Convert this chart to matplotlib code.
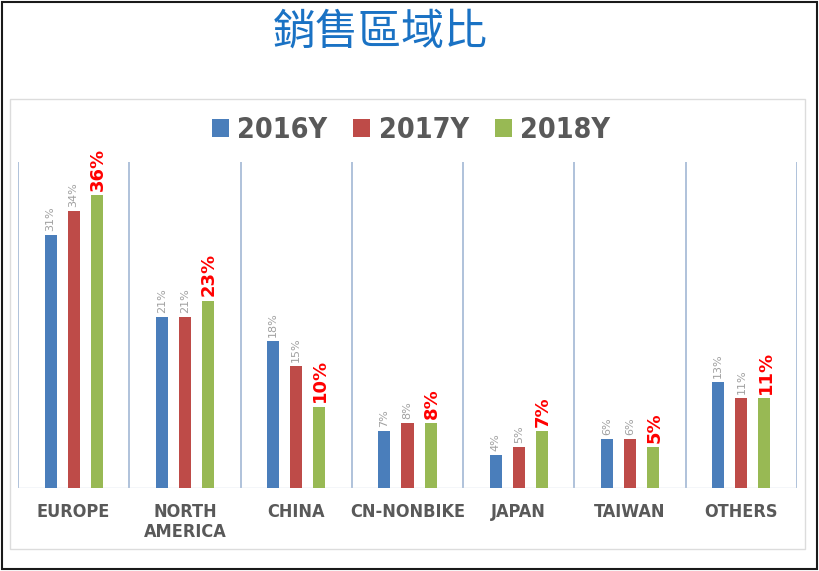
import matplotlib
matplotlib.use("Agg")
import matplotlib.pyplot as plt
from matplotlib.patches import Rectangle, Patch
from matplotlib import font_manager as fm
import numpy as np

categories = ["EUROPE", "NORTH\nAMERICA", "CHINA", "CN-NONBIKE", "JAPAN", "TAIWAN", "OTHERS"]
series_names = ["2016Y", "2017Y", "2018Y"]
v2016 = [31, 21, 18, 7, 4, 6, 13]
v2017 = [34, 21, 15, 8, 5, 6, 11]
v2018 = [36, 23, 10, 8, 7, 5, 11]
title = "銷售區域比"

colors = ["#4a7ebb", "#be4b48", "#98b954"]

cond = None
for f in fm.fontManager.ttflist:
    if "Condensed" in f.fname and "Bold" in f.fname and "Oblique" not in f.fname and "Italic" not in f.fname:
        cond = f.fname
        break
if cond:
    cat_prop = fm.FontProperties(fname=cond, size=13)
    leg_prop = fm.FontProperties(fname=cond, size=20.5)
else:
    cat_prop = fm.FontProperties(family="DejaVu Sans", weight="bold", size=11)
    leg_prop = fm.FontProperties(family="DejaVu Sans", weight="bold", size=18)

fig = plt.figure(figsize=(8.2, 5.71), dpi=100)
W, H = 820, 571

fig.patches.append(Rectangle((2 / W, 2 / H), 815 / W, 567 / H, transform=fig.transFigure,
                             fill=False, edgecolor="#1a1a1a", lw=1.5))
fig.patches.append(Rectangle((10 / W, 1 - 549 / H), 795 / W, 450 / H, transform=fig.transFigure,
                             fill=False, edgecolor="#dcdcdc", lw=1.0))

ax = fig.add_axes([18 / W, 1 - 488 / H, 779 / W, 326 / H])
x = np.arange(len(categories))
bw = 0.108
off = 0.207
for i, (vals, c) in enumerate(zip([v2016, v2017, v2018], colors)):
    xs = x + (i - 1) * off
    ax.bar(xs, vals, width=bw, color=c, zorder=3)
    for xi, v in zip(xs, vals):
        if i < 2:
            ax.text(xi, v + 0.5, f"{v}%", rotation=90, ha="center", va="bottom",
                    fontsize=8, color="#a0a0a0", family=["DejaVu Sans"])
        else:
            ax.text(xi + 0.01, v + 0.5, f"{v}%", rotation=90, ha="center", va="bottom",
                    fontsize=13, color="#ff0000", fontweight="bold", family=["DejaVu Sans"])

ax.set_xlim(-0.5, len(categories) - 0.5)
ax.set_ylim(0, 40)
ax.vlines(np.arange(len(categories) + 1) - 0.5, 0, 40, color="#a9bdd8", lw=1.3, zorder=1)
ax.axhline(0, color="#c8d4e4", lw=1.0, zorder=2)
for s in ax.spines.values():
    s.set_visible(False)
ax.set_yticks([])
ax.set_xticks(x)
ax.set_xticklabels(categories, color="#595959", fontproperties=cat_prop,
                   linespacing=1.1, va="top")
ax.tick_params(axis="x", length=0, pad=11)
ax.set_facecolor("none")

handles = [Patch(facecolor=c, edgecolor="none") for c in colors]
fig.legend(handles, series_names, loc="center", bbox_to_anchor=(411 / W, 1 - 130 / H),
           ncol=3, frameon=False, prop=leg_prop,
           labelcolor="#595959", handlelength=0.6, handleheight=0.6, handletextpad=0.3,
           columnspacing=0.9)

fig.text(380 / W, 1 - 33 / H, title, ha="center", va="center", fontsize=31,
         color="#1a72c4", fontweight="medium", family=["Noto Sans CJK TC", "DejaVu Sans"])

fig.savefig("out.png", dpi=100)
